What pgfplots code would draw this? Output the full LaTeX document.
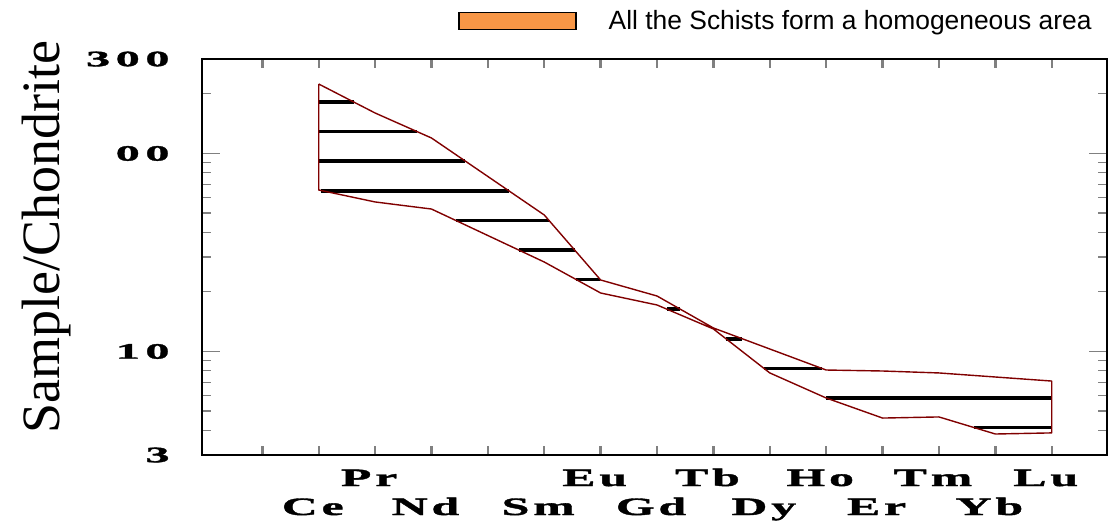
\documentclass[border=0pt]{standalone}
\usepackage{fontspec}
\usepackage{pgfplots}
\usepackage{pgfplotstable}
\pgfplotsset{compat=1.18}
\setmainfont{Liberation Serif}
\newfontfamily\numfont[FakeStretch=2.2,FakeBold=1.5,LetterSpace=25]{Liberation Serif}
\newfontfamily\elemfont[FakeStretch=2.0,FakeBold=1.5,LetterSpace=15]{Liberation Serif}
\newfontfamily\legfont{Liberation Sans}
\definecolor{envred}{RGB}{128,0,0}
\definecolor{legorange}{RGB}{247,150,70}

% envelope of the schists: upper line Ce->Lu, then lower line Lu->Ce
\pgfplotstableread{
x y
2 224.3
3 160.1
4 119.7
6 48.9
7 22.96
8 19.06
9 13.14
11 8.06
12 7.97
13 7.79
15 7.09
15 3.88
14 3.83
13 4.67
12 4.61
11 5.82
10 7.79
9 12.99
8 17.17
7 19.74
6 28.3
4 52.4
3 56.9
2 65.4
2 224.3
}\envelope

% horizontal hatch segments inside the envelope
\pgfplotstableread{
x y
2 181.9
2.621 181.9
nan nan
2 128.97
3.744 128.97
nan nan
2 91.4
4.603 91.4
nan nan
2.04 64.8
5.371 64.8
nan nan
4.43 45.9
6.083 45.9
nan nan
5.547 32.5
6.538 32.5
nan nan
6.568 23.07
6.994 23.07
nan nan
8.175 16.35
8.413 16.35
nan nan
9.223 11.59
9.514 11.59
nan nan
9.895 8.21
10.924 8.21
nan nan
11.0 5.82
15 5.82
nan nan
13.624 4.13
15 4.13
}\hatch

\begin{document}
\begin{tikzpicture}
\useasboundingbox (0,0) rectangle (554pt,265.5pt);
\begin{axis}[
  at={(101pt,38pt)}, anchor=south west,
  scale only axis,
  width=452.5pt, height=198pt,
  xmin=-0.07, xmax=15.98,
  ymode=log, ymin=3, ymax=300,
  axis line style={line width=0.9pt},
  xtick={3,7,9,11,13,15},
  xticklabels={Pr,Eu,Tb,Ho,Tm,Lu},
  minor xtick={1,...,15},
  major x tick style={draw=none},
  minor x tick style={line width=1.2pt},
  extra x ticks={2,4,6,8,10,12,14},
  extra x tick labels={Ce,Nd,Sm,Gd,Dy,Er,Yb},
  extra x tick style={xticklabel style={yshift=-14.5pt}},
  xticklabel style={font=\elemfont\bfseries\fontsize{12.5}{13}\selectfont,
    anchor=base, inner sep=0pt, yshift=-15.5pt, xshift=-3pt},
  ytick={3,10,100,300},
  yticklabels={3,10,00,300},
  minor ytick={4,5,6,7,8,9,20,30,40,50,60,70,80,90,200},
  major y tick style={line width=0.6pt},
  minor y tick style={line width=0.6pt},
  major tick length=9pt,
  minor tick length=4.5pt,
  yticklabel style={font=\numfont\bfseries\fontsize{11}{12}\selectfont,
    anchor=east, inner sep=0pt, xshift=-16pt},
  ylabel={Sample/Chondrite},
  ylabel style={font=\fontsize{27}{30}\selectfont,
    at={(rel axis cs:-0.1713,0.55)}, anchor=center},
  unbounded coords=jump,
  legend style={draw=none, fill=none, inner sep=0pt, outer sep=0pt,
    at={(rel axis cs:0.283,1.096)}, anchor=west,
    column sep=14pt,
    font=\legfont\fontsize{13.2}{15}\selectfont},
]
\addplot[forget plot, black, line width=1.8pt, line cap=butt] table {\hatch};
\addplot[forget plot, envred, line width=0.7pt, line join=round] table {\envelope};
\addlegendimage{legend image code/.code={
  \draw[fill=legorange, draw=black, line width=0.8pt] (0pt,-4.25pt) rectangle (58.5pt,4.25pt);}}
\addlegendentry{All the Schists form a homogeneous area}
\end{axis}
\end{tikzpicture}
\end{document}
